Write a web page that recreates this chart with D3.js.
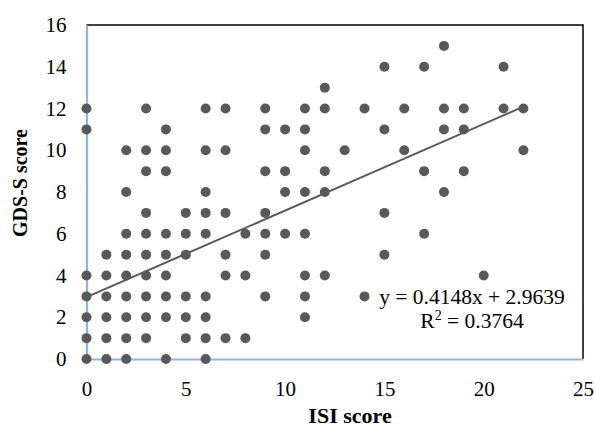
<!DOCTYPE html>
<html>
<head>
<meta charset="utf-8">
<script src="https://cdn.jsdelivr.net/npm/d3@7"></script>
<style>
  html, body { margin: 0; padding: 0; background: #fff; }
  svg { display: block; }
  svg text { font-family: 'Liberation Serif', 'Times New Roman', serif; }
</style>
</head>
<body>
<svg id="chart" width="595" height="429"></svg>
<script>
// ---- Data ----
const isiScores = [
  0,0,0,0,0,0,0,
  1,1,1,1,1,1,
  2,2,2,2,2,2,2,2,2,
  3,3,3,3,3,3,3,3,3,3,
  4,4,4,4,4,4,4,4,4,
  5,5,5,5,5,5,
  6,6,6,6,6,6,6,6,6,
  7,7,7,7,7,7,
  8,8,8,
  9,9,9,9,9,9,9,
  10,10,10,10,
  11,11,11,11,11,11,11,11,
  12,12,12,12,12,
  13,
  14,14,
  15,15,15,15,
  16,16,
  17,17,17,
  18,18,18,18,
  19,19,19,
  20,
  21,21,
  22,22
];
const gdsScores = [
  0,1,2,3,4,11,12,
  0,1,2,3,4,5,
  0,1,2,3,4,5,6,8,10,
  1,2,3,4,5,6,7,9,10,12,
  0,2,3,4,5,6,9,10,11,
  1,2,3,5,6,7,
  0,1,2,3,6,7,8,10,12,
  1,4,5,7,10,12,
  1,4,6,
  3,5,6,7,9,11,12,
  6,8,9,11,
  2,3,4,6,8,10,11,12,
  4,8,9,12,13,
  10,
  3,12,
  5,7,11,14,
  10,12,
  6,9,14,
  8,11,12,15,
  9,11,12,
  4,
  12,14,
  10,12
];
const xTicks = [0, 5, 10, 15, 20, 25];
const yTicks = [0, 2, 4, 6, 8, 10, 12, 14, 16];
const trendSlope = 0.4148;
const trendIntercept = 2.9639;
const equationLabel = "y = 0.4148x + 2.9639";
const r2Value = "0.3764";
const xTitle = "ISI score";
const yTitle = "GDS-S score";

// ---- Layout ----
const svg = d3.select("#chart");
const plotL = 86.5, plotR = 583, plotT = 25, plotB = 359;
const xScale = d3.scaleLinear().domain([0, 25]).range([plotL, plotR]);
const yScale = d3.scaleLinear().domain([0, 16]).range([plotB, plotT]);
const font = "'Liberation Serif', 'Times New Roman', serif";

// top & right border (black)
svg.append("path")
  .attr("d", `M${plotL},${plotT}H${plotR}V${plotB}`)
  .attr("fill", "none").attr("stroke", "#000").attr("stroke-width", 1.5);

// x axis
const gx = svg.append("g").attr("transform", `translate(0,${plotB})`)
  .call(d3.axisBottom(xScale).tickValues(xTicks).tickSize(0).tickPadding(22))
  .attr("font-family", font).attr("font-size", 21);
gx.select(".domain").attr("stroke", "#8EB4E3").attr("stroke-width", 2.2);
gx.selectAll("text").attr("font-family", font).attr("font-size", 21).attr("fill", "#000");

// y axis
const gy = svg.append("g").attr("transform", `translate(${plotL},0)`)
  .call(d3.axisLeft(yScale).tickValues(yTicks).tickSize(0).tickPadding(20))
  .attr("font-family", font).attr("font-size", 21);
gy.select(".domain").attr("stroke", "#8EB4E3").attr("stroke-width", 2.2);
gy.selectAll("text").attr("font-family", font).attr("font-size", 21).attr("fill", "#000");

// points
const pts = isiScores.map((v, i) => ({ x: v, y: gdsScores[i] }));
svg.append("g").selectAll("circle").data(pts).join("circle")
  .attr("cx", d => xScale(d.x)).attr("cy", d => yScale(d.y)).attr("r", 5)
  .attr("fill", "#595959");

// trend line
const xMin = d3.min(isiScores), xMax = d3.max(isiScores);
svg.append("line")
  .attr("x1", xScale(xMin)).attr("y1", yScale(trendIntercept + trendSlope * xMin))
  .attr("x2", xScale(xMax)).attr("y2", yScale(trendIntercept + trendSlope * xMax))
  .attr("stroke", "#595959").attr("stroke-width", 2);

// equation labels
const eqX = 472;
svg.append("text").attr("x", eqX).attr("y", 304)
  .attr("text-anchor", "middle").attr("font-family", font).attr("font-size", 21.5)
  .text(equationLabel);
const r2 = svg.append("text").attr("x", eqX).attr("y", 328)
  .attr("text-anchor", "middle").attr("font-family", font).attr("font-size", 21.5);
r2.append("tspan").text("R");
r2.append("tspan").attr("dy", -8).attr("font-size", 14).text("2");
r2.append("tspan").attr("dy", 8).text(" = " + r2Value);

// axis titles
svg.append("text").attr("x", 350).attr("y", 423)
  .attr("text-anchor", "middle").attr("font-family", font)
  .attr("font-size", 22).attr("font-weight", "bold").text(xTitle);
svg.append("text")
  .attr("transform", "translate(27,183) rotate(-90)")
  .attr("text-anchor", "middle").attr("font-family", font)
  .attr("font-size", 20).attr("font-weight", "bold").text(yTitle);
</script>
</body>
</html>
